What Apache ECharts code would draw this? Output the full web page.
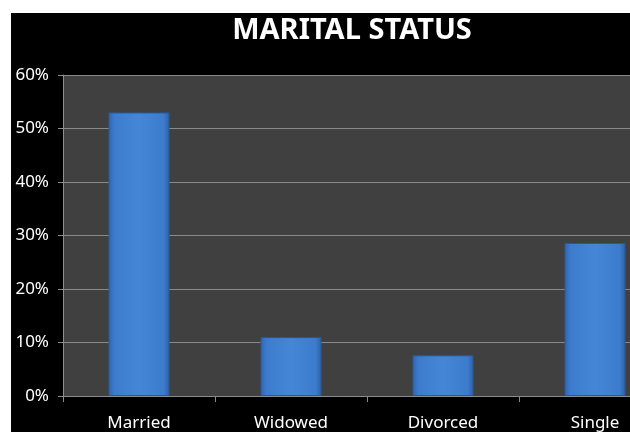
<!DOCTYPE html>
<html>
<head>
<meta charset="utf-8">
<script src="https://cdn.jsdelivr.net/npm/echarts@6/dist/echarts.min.js"></script>
<style>
  html, body { margin: 0; padding: 0; background: #fff; overflow: hidden; width: 630px; height: 432px; }
  #chart { width: 680px; height: 432px; }
</style>
</head>
<body>
<div id="chart"></div>
<script>
var categories = ['Married', 'Widowed', 'Divorced', 'Single'];
var shares = [53, 11, 7.6, 28.6];
var yTicks = [0, 10, 20, 30, 40, 50, 60];

var chart = echarts.init(document.getElementById('chart'));

// bevelled blue bars: darker at the sides, lighter in the middle
var barColor = new echarts.graphic.LinearGradient(0, 0, 1, 0, [
  { offset: 0, color: '#2f65ad' },
  { offset: 0.1, color: '#3d7ccd' },
  { offset: 0.5, color: '#4586d7' },
  { offset: 0.9, color: '#3d7ccd' },
  { offset: 1, color: '#2d60a6' }
]);

chart.setOption({
  backgroundColor: '#fff',
  animation: false,
  graphic: [{
    type: 'rect',
    left: 11,
    top: 13,
    z: -10,
    shape: { width: 669, height: 419 },
    style: { fill: '#000' }
  }],
  title: {
    text: 'MARITAL STATUS',
    left: 347,
    top: 11,
    textAlign: 'center',
    textStyle: {
      color: '#fff',
      fontFamily: 'Liberation Sans Narrow, Noto Sans',
      fontWeight: 'bold',
      fontSize: 29
    }
  },
  grid: {
    left: 63,
    right: 9,
    top: 75,
    bottom: 35,
    show: true,
    backgroundColor: '#404040',
    borderWidth: 0
  },
  xAxis: {
    type: 'category',
    data: categories,
    axisLine: { lineStyle: { color: '#8c8c8c', width: 1 } },
    axisTick: { show: true, length: 6, lineStyle: { color: '#8c8c8c' } },
    axisLabel: {
      color: '#fff',
      fontFamily: 'Noto Sans',
      fontSize: 17,
      margin: 19
    }
  },
  yAxis: {
    type: 'value',
    min: 0,
    max: 60,
    interval: 10,
    axisLine: { show: true, lineStyle: { color: '#8c8c8c' } },
    axisTick: { show: true, length: 5, lineStyle: { color: '#8c8c8c' } },
    splitLine: { lineStyle: { color: '#8a8a8a', width: 1 } },
    axisLabel: {
      color: '#fff',
      fontFamily: 'Noto Sans',
      fontSize: 17,
      margin: 14,
      formatter: function (v) {
        return yTicks.indexOf(v) >= 0 ? v + '%' : '';
      }
    }
  },
  series: [{
    type: 'bar',
    data: shares,
    barWidth: 61,
    itemStyle: {
      color: barColor,
      borderColor: '#2a5896',
      borderWidth: 1
    }
  }]
});
</script>
</body>
</html>
